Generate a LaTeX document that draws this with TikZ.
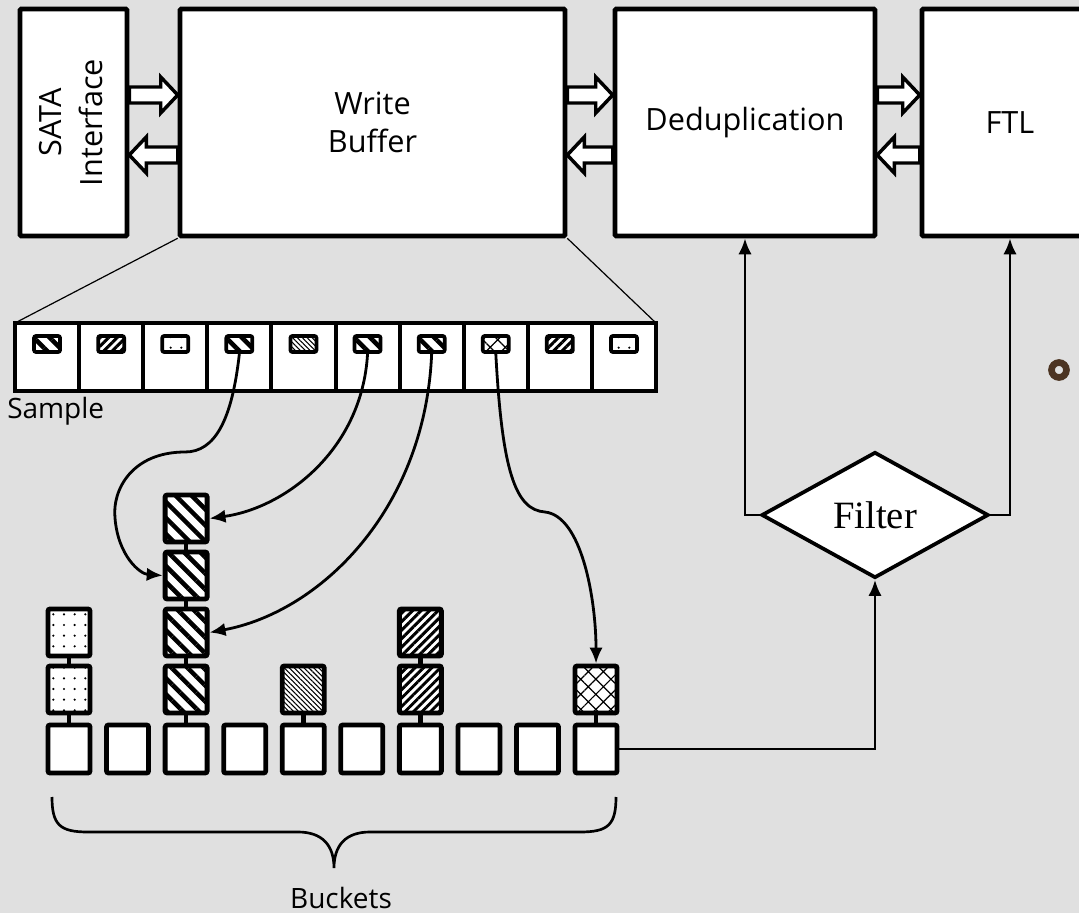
\documentclass[tikz,border=0pt]{standalone}
\usepackage{fontspec}
\setmainfont{Open Sans}
\newfontfamily\filterfont{Liberation Serif}
\usetikzlibrary{patterns.meta,shapes.geometric,arrows.meta,calc}
\definecolor{bgc}{RGB}{224,224,224}
\definecolor{ringc}{RGB}{76,52,34}
\newcommand\blkarrow[2]{%
  \coordinate (ba) at #1;
  \coordinate (bb) at #2;
  \coordinate (bh) at ($(bb)!12.75pt!(ba)$);
  \draw[blk] ($(ba)!6pt!90:(bb)$) -- ($(bh)!6pt!-90:(ba)$) -- ($(bh)!13.5pt!-90:(ba)$) -- (bb)
     -- ($(bh)!13.5pt!90:(ba)$) -- ($(bh)!6pt!90:(ba)$) -- ($(ba)!6pt!-90:(bb)$) -- cycle;}
\begin{document}
\begin{tikzpicture}[x=0.75pt,y=-0.75pt,
  bigbox/.style={draw, line width=3.4pt, fill=white, rounded corners=0.8pt, align=center,
    font=\fontsize{23}{29}\selectfont, inner sep=0pt, minimum height=170.25pt},
  blk/.style={draw, fill=white, line width=2.6pt, line join=miter},
  cell/.style={draw, line width=3pt, fill=white, minimum width=48.075pt, minimum height=51pt, inner sep=0pt, outer sep=0pt},
  icon/.style={draw, line width=2.8pt, rounded corners=1.5pt, preaction={fill=white}, minimum width=19.5pt, minimum height=12pt, inner sep=0pt},
  bucket/.style={draw, line width=3.6pt, rounded corners=1.5pt, preaction={fill=white}, minimum width=31.5pt, minimum height=36pt, inner sep=0pt},
  bitem/.style={bucket, minimum height=35.25pt},
  stub/.style={line width=3.4pt},
  pdots/.style={pattern={Dots[distance=8pt, radius=0.9pt]}},
  pbold/.style={pattern={Lines[angle=-45, distance=8.5pt, line width=3.4pt]}},
  pfine/.style={pattern={Lines[angle=-45, distance=2.6pt, line width=0.8pt]}},
  pdense/.style={pattern={Lines[angle=45, distance=4.5pt, line width=2.2pt]}},
  pcross/.style={pattern={Hatch[angle=45, distance=8pt, line width=0.9pt]}},
  conn/.style={line width=2.1pt, -{Latex[length=12pt, width=10pt]}},
  lbl/.style={font=\fontsize{21}{25}\selectfont, inner sep=0pt}
]
\fill[bgc] (0,0) rectangle (1079,913);
\useasboundingbox (0,0) rectangle (1079,913);
\clip (0,0) rectangle (1079,913);

% top boxes
\node[bigbox, minimum width=80.25pt] (sata) at (73.5,122.5)
  {\rotatebox{90}{\fontsize{23}{31}\selectfont\begin{tabular}{@{}c@{}}SATA\\Interface\end{tabular}}};
\node[bigbox, minimum width=288.75pt] (wb) at (372.5,122.5) {Write\\Buffer};
\node[bigbox, minimum width=195pt] (dedup) at (745,122.5) {Deduplication};
\node[bigbox, minimum width=132pt] (ftl) at (1010,122.5) {FTL};

% block arrows
\blkarrow{($(sata.east)+(0,-27.5)$)}{($(wb.west)+(0,-27.5)$)}
\blkarrow{($(wb.west)+(0,32.5)$)}{($(sata.east)+(0,32.5)$)}
\blkarrow{($(wb.east)+(0,-27.5)$)}{($(dedup.west)+(0,-27.5)$)}
\blkarrow{($(dedup.west)+(0,32.5)$)}{($(wb.east)+(0,32.5)$)}
\blkarrow{($(dedup.east)+(0,-27.5)$)}{($(ftl.west)+(0,-27.5)$)}
\blkarrow{($(ftl.west)+(0,32.5)$)}{($(dedup.east)+(0,32.5)$)}

% sample row
\foreach \i in {1,...,10} {
  \node[cell] (s\i) at ({15+(\i-0.5)*64.1},357) {};
}
\draw[line width=0.9pt] (wb.south west) -- (s1.north west);
\draw[line width=0.9pt] (wb.south east) -- (s10.north east);
\node[lbl, anchor=base west] (sample) at (7,418) {Sample};

% icons
\node[icon, pbold]  (ic1)  at ($(s1.north)+(0,21)$) {};
\node[icon, pdense] (ic2)  at ($(s2.north)+(0,21)$) {};
\node[icon, pdots]  (ic3)  at ($(s3.north)+(0,21)$) {};
\node[icon, pbold]  (ic4)  at ($(s4.north)+(0,21)$) {};
\node[icon, pfine]  (ic5)  at ($(s5.north)+(0,21)$) {};
\node[icon, pbold]  (ic6)  at ($(s6.north)+(0,21)$) {};
\node[icon, pbold]  (ic7)  at ($(s7.north)+(0,21)$) {};
\node[icon, pcross] (ic8)  at ($(s8.north)+(0,21)$) {};
\node[icon, pdense] (ic9)  at ($(s9.north)+(0,21)$) {};
\node[icon, pdots]  (ic10) at ($(s10.north)+(0,21)$) {};

% buckets
\foreach \i in {1,...,10} {
  \node[bucket] (b\i) at ({69+(\i-1)*58.56},749) {};
}
\node[bitem, pdots] (c1a) at ($(b1)+(0,-59.5)$) {};
\node[bitem, pdots] (c1b) at ($(b1)+(0,-116.5)$) {};
\node[bitem, pbold] (c3a) at ($(b3)+(0,-59.5)$) {};
\node[bitem, pbold] (c3b) at ($(b3)+(0,-116.5)$) {};
\node[bitem, pbold] (c3c) at ($(b3)+(0,-173.5)$) {};
\node[bitem, pbold] (c3d) at ($(b3)+(0,-230.5)$) {};
\node[bitem, pfine] (c5a) at ($(b5)+(0,-59.5)$) {};
\node[bitem, pdense] (c7a) at ($(b7)+(0,-59.5)$) {};
\node[bitem, pdense] (c7b) at ($(b7)+(0,-116.5)$) {};
\node[bitem, pcross] (c10a) at ($(b10)+(0,-59.5)$) {};
\draw[stub] (b1.north) -- (c1a.south) (c1a.north) -- (c1b.south);
\draw[stub] (b3.north) -- (c3a.south) (c3a.north) -- (c3b.south) (c3b.north) -- (c3c.south) (c3c.north) -- (c3d.south);
\draw[stub] (b5.north) -- (c5a.south);
\draw[stub] (b7.north) -- (c7a.south) (c7a.north) -- (c7b.south);
\draw[stub] (b10.north) -- (c10a.south);

% curved arrows from samples to buckets
\draw[conn] (ic4.south) .. controls (232,420) and (215,452) .. (185,452)
   .. controls (132,452) and (112,490) .. (115,518)
   .. controls (118,556) and (140,574) .. (c3c.west);
\draw[conn] (ic6.south) .. controls (362,450) and (285,508) .. (c3d.east);
\draw[conn] (ic7.south) .. controls (425,510) and (320,612) .. (c3b.east);
\draw[conn] (ic8.south) .. controls (502,470) and (515,510) .. (545,512)
   .. controls (582,516) and (596,600) .. (c10a.north);

% brace
\draw[line width=2pt] (52,797) .. controls (52,825) and (60,832) .. (88,832) -- (298,832)
   .. controls (322,832) and (334,845) .. (334,868)
   .. controls (334,845) and (346,832) .. (370,832) -- (580,832)
   .. controls (608,832) and (616,825) .. (616,797);
\node[lbl, anchor=base] (buckets) at (341,908) {Buckets};

% filter
\node[diamond, draw, line width=2.8pt, fill=white, aspect=1.8, inner sep=0pt,
  minimum width=170.25pt, minimum height=94.5pt,
  font=\filterfont\fontsize{29}{30}\selectfont] (filter) at (875,515) {Filter};
\draw[conn] (filter.west) -| (dedup.south);
\draw[conn] (filter.east) -| (ftl.south);
\draw[conn] (b10.east) -| (filter.south);

% bullet ring
\draw[ringc, line width=5pt] (1059,370) circle (5.6pt);
\end{tikzpicture}
\end{document}
